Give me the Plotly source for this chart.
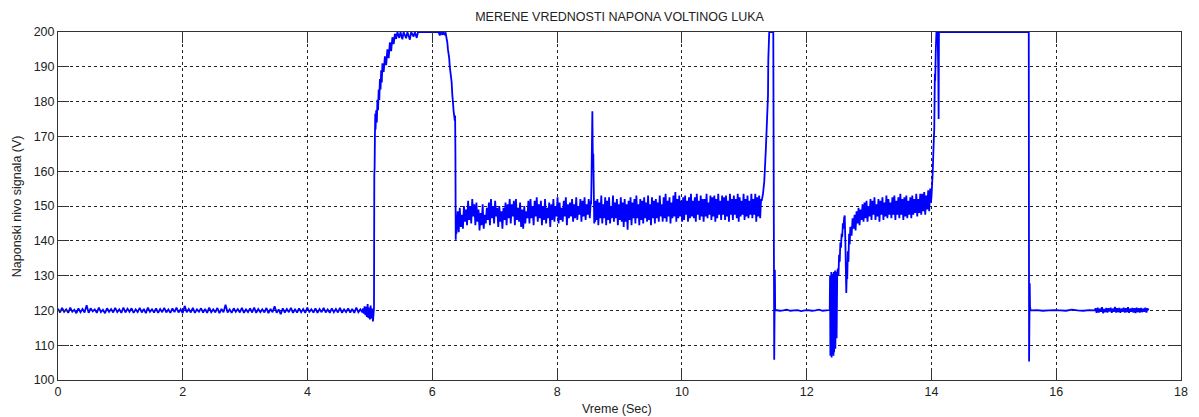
import numpy as np
import plotly.graph_objects as go

# ---------------- data (volts) ----------------
title_text = "MERENE VREDNOSTI NAPONA VOLTINOG LUKA"
x_title = "Vreme (Sec)"
y_title = "Naponski nivo signala (V)"
x_ticks = [0, 2, 4, 6, 8, 10, 12, 14, 16, 18]
y_ticks = [100, 110, 120, 130, 140, 150, 160, 170, 180, 190, 200]

# idle level 0.00 .. 4.88 s (evenly sampled)
idle1_span = (0.0, 4.88)
idle1_v = [
    120.5, 119.4, 120.7, 119.6, 120.3, 119.3, 120.8, 119.6, 120.2, 119.2,
    120.6, 119.5, 120.4, 119.4, 121.5, 119.3, 120.6, 119.7, 120.3, 119.3,
    120.8, 119.5, 120.2, 119.2, 120.6, 119.6, 120.4, 119.4, 120.7, 119.5,
    120.3, 119.3, 120.8, 119.4, 120.5, 119.6, 120.6, 119.3, 120.3, 119.5,
    120.7, 119.4, 120.4, 119.2, 120.8, 119.6, 120.3, 119.4, 120.6, 119.3,
    120.4, 119.5, 120.7, 119.4, 120.3, 119.3, 120.6, 119.5, 120.8, 119.4,
    120.3, 119.2, 121.3, 119.5, 120.4, 119.4, 120.7, 119.3, 120.3, 119.6,
    120.6, 119.4, 120.4, 119.3, 120.8, 119.5, 120.3, 119.4, 120.7, 119.2,
    120.4, 119.5, 121.6, 119.4, 120.3, 119.3, 120.6, 119.6, 120.4, 119.4,
    120.7, 119.3, 120.3, 119.5, 120.6, 119.4, 120.8, 119.3, 120.4, 119.5,
    120.3, 119.4, 120.7, 119.2, 120.4, 119.5, 121.2, 119.3, 120.3, 118.9,
    120.6, 119.4, 120.4, 119.5, 120.7, 119.3, 120.3, 119.4, 120.6, 119.5,
    120.4, 119.3, 120.8, 119.6, 120.3, 119.4, 120.6, 119.3, 120.4, 119.5,
    120.7, 119.4, 120.3, 119.3, 120.6, 119.5, 120.4, 119.4, 120.7, 119.3,
    120.3, 119.5, 120.6, 119.4, 120.4, 119.3, 120.8, 119.5, 120.3, 119.4,
]

# unsettled idle just before ignition 4.89 .. 5.06 s
pre_span = (4.89, 5.06)
pre_v = [120.6, 119.1, 121.2, 118.6, 121.0, 118.1, 121.8, 117.8,
         120.8, 117.4, 121.4, 117.7, 120.5, 116.8, 119.5]

# ignition, saturation and drop (explicit samples)
ign_t = [5.065, 5.07, 5.075, 5.08, 5.085, 5.09, 5.10, 5.11, 5.12, 5.13,
         5.14, 5.15, 5.16, 5.17, 5.18, 5.19, 5.20, 5.22, 5.24, 5.26,
         5.28, 5.30, 5.32, 5.34, 5.36, 5.38, 5.40, 5.42, 5.44, 5.47,
         5.49, 5.52, 5.54, 5.58, 5.60, 5.64, 5.66, 5.70, 5.72, 5.75,
         5.77, 6.10, 6.12, 6.13, 6.16, 6.17, 6.20, 6.21, 6.24, 6.25,
         6.27, 6.28, 6.30, 6.31, 6.32, 6.33, 6.34, 6.35, 6.36, 6.365,
         6.37, 6.375, 6.38, 6.385]
ign_v = [121.0, 159.0, 161.0, 170.5, 176.5, 172.0, 177.5, 174.0, 180.5, 177.5,
         183.5, 180.5, 186.5, 183.5, 189.0, 185.5, 191.0, 188.5, 193.0, 190.5,
         195.0, 192.5, 197.0, 194.5, 198.5, 196.5, 199.5, 198.0, 200.0, 198.3,
         200.0, 197.9, 200.0, 198.2, 200.0, 197.8, 200.0, 198.7, 200.0, 198.3,
         200.0, 200.0, 199.0, 200.0, 199.2, 200.0, 199.1, 200.0, 197.0, 195.0,
         192.5, 190.0, 187.0, 185.5, 182.0, 180.0, 177.5, 176.0, 174.5, 176.0,
         165.0, 140.3, 147.0, 142.0]

# burning arc 6.39 .. 8.54 s
arc1_span = (6.39, 8.54)
arc1_v = [
    143.0, 148.5, 142.5, 149.5, 144.0, 147.5, 143.5, 150.0, 145.5, 149.0,
    144.5, 151.5, 146.0, 150.0, 145.0, 152.0, 147.0, 150.5, 144.5, 151.0,
    145.5, 149.0, 143.0, 148.0, 144.5, 150.5, 143.5, 147.5, 145.0, 149.5,
    146.0, 151.0, 144.5, 152.0, 146.5, 150.0, 145.0, 151.5, 147.0, 149.5,
    144.0, 150.0, 145.5, 148.5, 143.5, 149.5, 146.0, 151.0, 144.5, 150.5,
    146.5, 152.0, 145.0, 150.5, 147.0, 151.5, 144.5, 152.0, 146.0, 149.5,
    145.5, 151.0, 144.0, 149.0, 143.5, 150.0, 145.0, 148.5, 146.5, 151.5,
    145.0, 152.0, 146.5, 150.0, 144.5, 151.5, 147.0, 152.5, 145.5, 150.5,
    146.5, 151.5, 144.5, 150.0, 146.0, 152.0, 145.0, 149.5, 146.5, 151.0,
    144.0, 150.5, 146.0, 152.0, 145.5, 150.0, 147.0, 152.5, 145.0, 151.0,
    146.0, 149.5, 145.5, 151.5, 147.0, 152.5, 144.5, 150.5, 146.5, 151.0,
    147.0, 152.0, 145.5, 150.5, 146.5, 152.5, 146.0, 150.0, 147.5, 152.0,
    145.5, 151.5, 147.0, 152.5, 146.0, 150.5, 147.5, 152.0, 146.5, 151.5,
]

# short spike around 8.57 s
spike_t = [8.545, 8.55, 8.555, 8.56, 8.565, 8.57, 8.575, 8.58, 8.585, 8.59,
           8.595, 8.60, 8.61, 8.62]
spike_v = [150.5, 156.0, 163.0, 170.0, 177.2, 168.0, 161.0, 165.0, 158.0, 152.0,
           145.0, 151.0, 145.5, 151.5]

# burning arc 8.63 .. 11.27 s
arc2_span = (8.63, 11.27)
arc2_v = [
    146.0, 152.0, 144.5, 151.0, 146.5, 153.0, 145.0, 150.5, 146.5, 152.5,
    144.5, 151.5, 146.0, 152.5, 145.0, 150.0, 146.5, 153.0, 145.5, 151.0,
    146.5, 152.0, 144.5, 150.5, 146.0, 152.5, 145.5, 151.0, 144.0, 152.0,
    145.5, 150.5, 143.2, 151.5, 146.0, 152.5, 144.5, 151.0, 146.5, 152.0,
    145.0, 153.0, 146.5, 150.5, 144.5, 152.0, 146.0, 151.5, 145.0, 152.5,
    146.5, 151.0, 145.5, 153.0, 146.0, 150.5, 144.5, 152.5, 146.5, 151.5,
    145.0, 152.0, 146.5, 151.0, 145.5, 153.0, 147.0, 150.5, 145.5, 152.5,
    146.5, 153.5, 145.5, 151.5, 147.0, 152.5, 145.0, 151.0, 146.5, 153.0,
    147.0, 154.0, 145.5, 152.0, 146.5, 153.0, 147.0, 151.5, 145.5, 152.5,
    146.0, 153.0, 147.5, 151.5, 145.5, 152.5, 146.5, 153.5, 147.0, 151.5,
    146.5, 152.5, 145.5, 153.5, 147.5, 151.5, 146.0, 153.0, 147.0, 152.0,
    145.5, 152.0, 147.0, 153.5, 146.5, 151.0, 147.5, 153.0, 146.0, 152.5,
    147.0, 153.0, 145.5, 152.0, 146.5, 153.5, 147.5, 151.5, 146.0, 153.0,
    147.5, 152.5, 146.0, 153.0, 147.0, 151.5, 145.5, 153.5, 147.5, 152.0,
    146.0, 153.0, 147.5, 152.0, 146.5, 153.5, 145.5, 152.5, 147.0, 151.5,
    147.5, 153.5, 146.0, 152.0, 147.0, 153.0, 146.5, 151.5, 147.5, 153.5,
    146.5, 152.0, 147.5, 153.5, 145.5, 152.5, 147.0, 153.0, 146.5, 152.0,
]

# rise, saturation, arc break 11.28 .. 11.50 s
brk1_t = [11.28, 11.30, 11.32, 11.33, 11.345, 11.355, 11.365, 11.38, 11.385, 11.40,
          11.465, 11.48, 11.485, 11.49, 11.495, 11.50]
brk1_v = [151.5, 153.5, 157.0, 160.5, 166.0, 170.5, 175.0, 181.6, 192.0, 200.0,
          200.0, 105.8, 118.0, 131.7, 120.5, 120.0]

# idle 11.51 .. 12.37 s
idle2_span = (11.51, 12.37)
idle2_v = [120.1, 119.9, 120.0, 120.2, 119.9, 120.0, 120.1, 119.8,
           120.0, 120.1, 119.9, 120.0, 120.2, 119.9, 120.0, 120.1]

# re-ignition burst 12.375 .. 12.70 s
burst_t = [12.375, 12.38, 12.385, 12.39, 12.395, 12.40, 12.405, 12.41, 12.415, 12.42,
           12.425, 12.43, 12.435, 12.44, 12.445, 12.45, 12.455, 12.46, 12.47, 12.48,
           12.49, 12.50, 12.51, 12.52, 12.53, 12.54, 12.55, 12.56, 12.57, 12.58,
           12.59, 12.60, 12.61, 12.62, 12.635, 12.645, 12.65, 12.66, 12.67, 12.68,
           12.69, 12.70]
burst_v = [130.0, 107.0, 129.0, 108.0, 131.0, 106.5, 128.0, 107.5, 130.5, 109.0,
           129.0, 107.0, 131.0, 108.0, 130.0, 110.0, 131.5, 109.0, 131.0, 112.0,
           131.0, 132.0, 130.0, 136.0, 134.0, 139.5, 138.0, 142.0, 141.0, 145.0,
           143.5, 146.5, 147.3, 140.0, 125.0, 132.0, 129.0, 137.0, 134.0, 142.0,
           139.0, 144.0]

# burning arc 12.72 .. 13.98 s
arc3_span = (12.72, 13.98)
arc3_v = [
    141.5, 146.5, 143.5, 147.5, 143.0, 148.5, 145.0, 149.5, 144.5, 149.0,
    146.0, 150.5, 145.5, 151.0, 146.5, 151.5, 145.5, 150.0, 147.0, 152.0,
    146.0, 151.5, 147.5, 152.5, 146.0, 150.5, 147.0, 152.0, 145.5, 151.5,
    147.5, 152.5, 146.0, 151.0, 147.0, 153.0, 146.5, 152.0, 147.5, 151.0,
    146.5, 152.5, 147.5, 153.0, 146.0, 151.5, 147.5, 152.5, 146.5, 153.5,
    147.5, 152.0, 146.0, 152.5, 147.0, 153.0, 146.5, 151.5, 147.5, 152.5,
    146.5, 153.0, 147.5, 152.0, 148.0, 153.5, 147.0, 152.0, 148.0, 153.5,
    147.5, 153.5, 148.5, 154.0, 147.5, 153.0, 149.0, 154.5, 148.5, 155.0,
]

# rise, long saturation, arc break 13.99 .. 15.59 s
brk2_t = [13.99, 14.00, 14.01, 14.02, 14.03, 14.04, 14.045, 14.05, 14.055, 14.06,
          14.07, 14.08, 14.10, 14.11, 14.115, 14.12, 15.56, 15.565, 15.575, 15.58,
          15.59]
brk2_v = [151.0, 152.5, 156.0, 159.5, 165.0, 170.0, 172.0, 180.0, 188.0, 186.0,
          195.0, 200.0, 200.0, 187.5, 175.0, 200.0, 200.0, 105.3, 127.8, 121.0,
          120.0]

# idle 15.60 .. 16.62 s
idle3_span = (15.60, 16.62)
idle3_v = [120.0, 120.1, 119.9, 120.0, 120.1, 120.0, 119.9, 120.2, 120.0, 119.9, 120.1, 120.0]

# idle with noise 16.63 .. 17.48 s
idle4_span = (16.63, 17.48)
idle4_v = [
    120.6, 119.3, 120.8, 119.4, 120.5, 119.6, 120.9, 119.2, 120.4, 119.5,
    120.7, 119.4, 120.6, 119.7, 120.8, 119.3, 120.5, 119.6, 121.0, 119.4,
    120.6, 119.5, 120.7, 119.3, 120.5, 119.6, 120.8, 119.4, 120.6, 119.5,
    120.9, 119.3, 120.5, 119.6, 120.7, 119.4, 120.6, 119.2, 120.8, 119.5,
    120.6, 119.4, 120.7, 119.5, 120.5, 119.6, 120.8, 119.4, 120.6, 120.0,
]

# ---------------- assemble (evenly sampled segments + explicit samples) ----------------
def sampled(span, vals):
    return list(np.linspace(span[0], span[1], len(vals))), list(vals)

pieces = [
    sampled(idle1_span, idle1_v),
    sampled(pre_span, pre_v),
    (ign_t, ign_v),
    sampled(arc1_span, arc1_v),
    (spike_t, spike_v),
    sampled(arc2_span, arc2_v),
    (brk1_t, brk1_v),
    sampled(idle2_span, idle2_v),
    (burst_t, burst_v),
    sampled(arc3_span, arc3_v),
    (brk2_t, brk2_v),
    sampled(idle3_span, idle3_v),
    sampled(idle4_span, idle4_v),
]
t_all, v_all = [], []
for tt, vv in pieces:
    t_all += list(tt)
    v_all += list(vv)

fig = go.Figure()
fig.add_trace(go.Scatter(x=t_all, y=v_all, mode="lines",
                         line=dict(color="#0000FF", width=1.8, simplify=False),
                         hoverinfo="skip", showlegend=False))

axis_common = dict(
    showline=True, linecolor="#333333", linewidth=1, mirror="ticks",
    ticks="inside", ticklen=11, tickcolor="#333333", tickwidth=1,
    showgrid=True, gridcolor="#222222", gridwidth=1, griddash="3px,3px",
    zeroline=False, tickfont=dict(family="Liberation Sans", size=12.5, color="#222222"),
)
fig.update_xaxes(range=[0, 18], tickvals=x_ticks, ticktext=[str(v) for v in x_ticks], **axis_common)
fig.update_yaxes(range=[100, 200], tickvals=y_ticks, ticktext=[str(v) for v in y_ticks], **axis_common)

fig.update_layout(
    width=1199, height=417,
    margin=dict(l=58, r=11, t=32, b=37),
    paper_bgcolor="white", plot_bgcolor="white",
    font=dict(family="Liberation Sans", color="#222222"),
    title=dict(text=title_text, x=0.5, xref="paper", y=1 - 17 / 417, yref="container",
               xanchor="center", yanchor="middle",
               font=dict(family="Liberation Sans", size=12.5, color="#222222")),
    annotations=[
        dict(text=x_title, xref="paper", yref="paper", x=0.498, y=-29 / 348,
             xanchor="center", yanchor="middle", showarrow=False,
             font=dict(family="Liberation Sans", size=12.5, color="#222222")),
        dict(text=y_title, xref="paper", yref="paper", x=-41 / 1130, y=0.5,
             xanchor="center", yanchor="middle", showarrow=False, textangle=-90,
             font=dict(family="Liberation Sans", size=12.5, color="#222222")),
    ],
)

fig.write_html("out.html", config={"displayModeBar": False},
               post_script="document.body.style.margin='0';document.body.style.overflow='hidden';")
